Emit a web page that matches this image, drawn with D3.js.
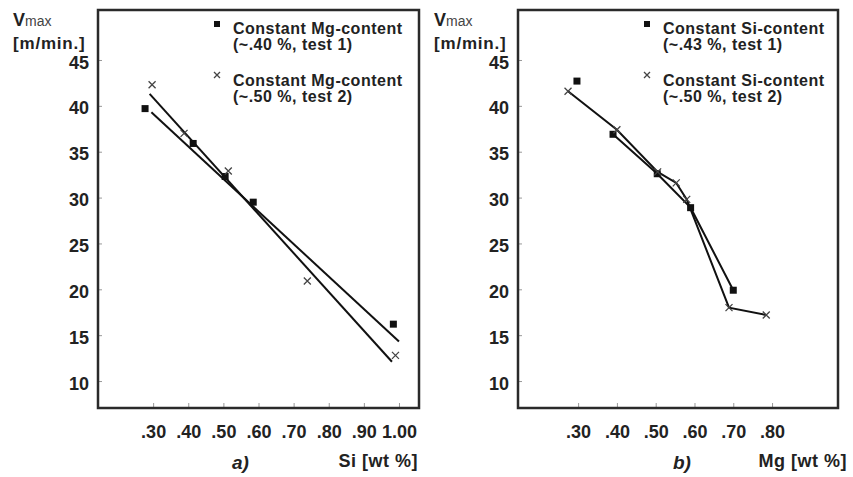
<!DOCTYPE html>
<html>
<head>
<meta charset="utf-8">
<script src="https://cdn.jsdelivr.net/npm/d3@7"></script>
<style>
  body { margin: 0; background: #fff; }
  svg { font-family: "Liberation Sans", Arial, sans-serif; }
</style>
</head>
<body>
<svg id="chart" width="853" height="477"></svg>
<script>
// values
const yTicks = [10, 15, 20, 25, 30, 35, 40, 45];
const siTicks = [0.30, 0.40, 0.50, 0.60, 0.70, 0.80, 0.90, 1.00];
const mgTicks = [0.30, 0.40, 0.50, 0.60, 0.70, 0.80];

// panel a) : Si varied
const siTest1X = [0.277, 0.414, 0.505, 0.585, 0.984];
const siTest1Y = [39.7, 35.9, 32.3, 29.5, 16.2];
const siTest2X = [0.297, 0.388, 0.514, 0.739, 0.990];
const siTest2Y = [42.3, 37.0, 32.9, 20.9, 12.8];
const siFit1X = [0.295, 1.00];
const siFit1Y = [39.3, 14.3];
const siFit2X = [0.290, 0.980];
const siFit2Y = [41.3, 12.1];

// panel b) : Mg varied
const mgTest1X = [0.297, 0.390, 0.504, 0.590, 0.700];
const mgTest1Y = [42.7, 36.9, 32.6, 28.9, 19.9];
const mgTest2X = [0.274, 0.400, 0.505, 0.553, 0.580, 0.689, 0.785];
const mgTest2Y = [41.6, 37.4, 32.8, 31.6, 29.8, 18.0, 17.2];

const legendA = [["Constant Mg-content", "(~.40 %, test 1)"], ["Constant Mg-content", "(~.50 %, test 2)"]];
const legendB = [["Constant Si-content", "(~.43 %, test 1)"], ["Constant Si-content", "(~.50 %, test 2)"]];

const svg = d3.select("#chart");
const plotTop = 10, plotBottom = 408;

const zip = (xs, ys) => xs.map((x, i) => [x, ys[i]]);
const fmt = v => d3.format(".2f")(v).replace(/^0/, "");

function panel(opt) {
  const x = d3.scaleLinear().domain(opt.xDomain).range([opt.left, opt.right]);
  const y = d3.scaleLinear().domain([7.06, 50.45]).range([plotBottom, plotTop]);
  const g = svg.append("g");

  // axes with inward ticks
  const ya = g.append("g").attr("transform", `translate(${opt.left},0)`)
    .call(d3.axisLeft(y).tickValues(yTicks).tickSize(-4).tickPadding(9).tickFormat(d3.format("d")));
  ya.select(".domain").remove();
  ya.selectAll("line").attr("stroke", "#999");
  ya.selectAll("text").attr("font-size", 18).attr("font-weight", "bold").attr("fill", "#222").attr("dy", "0.45em");

  const xa = g.append("g").attr("transform", `translate(0,${plotBottom})`)
    .call(d3.axisBottom(x).tickValues(opt.ticks).tickSize(-5).tickPadding(0).tickFormat(fmt));
  xa.select(".domain").remove();
  xa.selectAll("line").attr("stroke", "#999");
  xa.selectAll("text").attr("font-size", 18).attr("font-weight", "bold").attr("fill", "#222")
    .attr("dy", null).attr("y", 30);

  // frame
  g.append("rect").attr("x", opt.left).attr("y", plotTop)
    .attr("width", opt.right - opt.left).attr("height", plotBottom - plotTop)
    .attr("fill", "none").attr("stroke", "#2a2a2a").attr("stroke-width", 2.5);

  const line = d3.line().x(d => x(d[0])).y(d => y(d[1]));
  opt.lines.forEach(pts => {
    g.append("path").attr("d", line(pts)).attr("fill", "none")
      .attr("stroke", "#111").attr("stroke-width", 2);
  });

  g.selectAll(".sq").data(opt.squares).join("rect")
    .attr("x", d => x(d[0]) - 3.5).attr("y", d => y(d[1]) - 3.5)
    .attr("width", 7).attr("height", 7).attr("fill", "#111");

  const cross = (sel, cx, cy, r) => sel.append("path")
    .attr("d", `M${cx - r},${cy - r}L${cx + r},${cy + r}M${cx - r},${cy + r}L${cx + r},${cy - r}`)
    .attr("stroke", "#444").attr("stroke-width", 1.3).attr("fill", "none");
  opt.crosses.forEach(d => cross(g, x(d[0]), y(d[1]), 3.5));

  // y title
  const t = g.append("text").attr("x", opt.titleX).attr("y", 26).attr("fill", "#222");
  t.append("tspan").text("V").attr("font-size", 18).attr("font-weight", "bold");
  t.append("tspan").text("max").attr("font-size", 14).attr("fill", "#444");
  g.append("text").attr("x", opt.titleX).attr("y", 49).attr("font-size", 17)
    .attr("font-weight", "bold").attr("letter-spacing", 0.8).attr("fill", "#222").text("[m/min.]");

  // legend
  opt.legend.forEach((lines, i) => {
    const ly = 24 + i * 52;
    if (i === 0) {
      g.append("rect").attr("x", opt.legX - 3).attr("y", ly - 3).attr("width", 6).attr("height", 6).attr("fill", "#111");
    } else {
      cross(g, opt.legX, ly - 1, 3);
    }
    lines.forEach((s, j) => {
      g.append("text").attr("x", opt.legX + 16).attr("y", ly + 10 + j * 16)
        .attr("font-size", 16).attr("font-weight", "bold").attr("letter-spacing", 0.5)
        .attr("fill", "#222").text(s);
    });
  });

  // captions
  g.append("text").attr("x", opt.capX).attr("y", 469).attr("font-size", 19)
    .attr("font-weight", "bold").attr("font-style", "italic").attr("fill", "#222").text(opt.cap);
  g.append("text").attr("x", opt.unitX).attr("y", 467).attr("text-anchor", "end")
    .attr("font-size", 18).attr("font-weight", "bold").attr("letter-spacing", 0.5)
    .attr("fill", "#222").text(opt.unit);
}

panel({
  left: 98, right: 419, xDomain: [0.143, 1.057], ticks: siTicks,
  squares: zip(siTest1X, siTest1Y), crosses: zip(siTest2X, siTest2Y),
  lines: [zip(siFit1X, siFit1Y), zip(siFit2X, siFit2Y)],
  legend: legendA, legX: 217, titleX: 13,
  cap: "a)", capX: 232, unit: "Si [wt %]", unitX: 418
});

panel({
  left: 518, right: 838, xDomain: [0.145, 0.97], ticks: mgTicks,
  squares: zip(mgTest1X, mgTest1Y), crosses: zip(mgTest2X, mgTest2Y),
  lines: [zip(mgTest1X, mgTest1Y).slice(1), zip(mgTest2X, mgTest2Y)],
  legend: legendB, legX: 647, titleX: 434,
  cap: "b)", capX: 673, unit: "Mg [wt %]", unitX: 847
});
</script>
</body>
</html>
